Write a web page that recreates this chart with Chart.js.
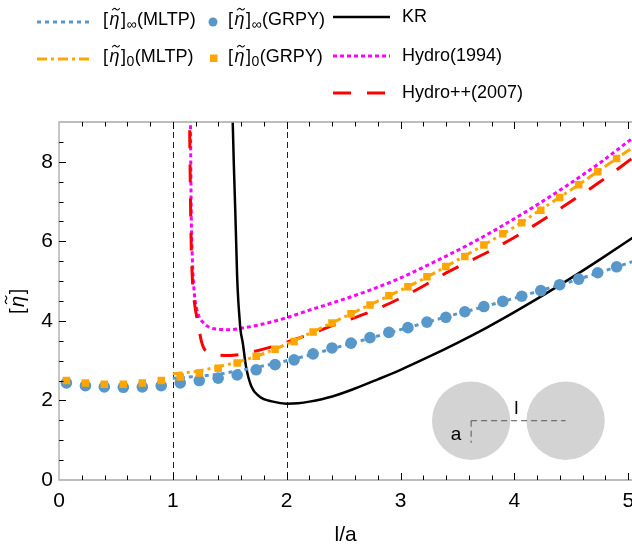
<!DOCTYPE html>
<html><head><meta charset="utf-8">
<script src="https://cdn.jsdelivr.net/npm/chart.js@4.4.1/dist/chart.umd.min.js"></script>
<style>html,body{margin:0;padding:0;background:#fff;overflow:hidden}#wrap{width:632px;height:551px;position:relative;overflow:hidden}canvas{display:block}</style>
</head><body><div id="wrap"><canvas id="c" width="638" height="551"></canvas></div>
<script>
// ---------- data ----------
const grpyX = [0.065,0.232,0.398,0.565,0.732,0.898,1.065,1.232,1.398,1.565,1.732,1.898,2.065,2.232,2.398,2.565,2.732,2.898,3.065,3.232,3.398,3.565,3.732,3.898,4.065,4.232,4.398,4.565,4.732,4.898];
const etaInfGRPY = [2.44,2.37,2.34,2.33,2.34,2.37,2.44,2.50,2.56,2.64,2.77,2.90,3.02,3.17,3.32,3.44,3.58,3.71,3.83,3.97,4.09,4.23,4.36,4.49,4.62,4.76,4.91,5.05,5.21,5.36];
const eta0GRPY = [2.50,2.44,2.41,2.41,2.44,2.50,2.59,2.69,2.81,2.94,3.11,3.29,3.48,3.72,3.95,4.18,4.40,4.63,4.86,5.11,5.37,5.62,5.91,6.19,6.47,6.78,7.10,7.42,7.75,8.08];

const mltpX = [1.0,1.2,1.4,1.6,1.8,2.0,2.25,2.5,2.75,3.0,3.25,3.5,3.75,4.0,4.25,4.5,4.75,5.05];
const etaInfMLTP = [2.56,2.60,2.66,2.76,2.87,3.00,3.18,3.38,3.58,3.78,3.98,4.18,4.37,4.57,4.78,4.99,5.22,5.50];
const eta0MLTP = [2.67,2.73,2.85,2.99,3.18,3.42,3.75,4.09,4.43,4.77,5.13,5.53,5.94,6.36,6.83,7.30,7.79,8.38];

const krX = [1.505,1.526,1.535,1.548,1.556,1.565,1.575,1.585,1.594,1.614,1.643,1.69,1.76,1.88,2.0,2.1,2.2,2.4,2.6,2.8,3.0,3.25,3.5,3.75,4.0,4.25,4.5,4.75,5.05];
const krY = [10.5,9.0,8.0,6.8,6.0,5.1,4.5,4.1,3.78,3.45,2.85,2.35,2.10,1.97,1.92,1.93,1.97,2.10,2.30,2.53,2.77,3.10,3.45,3.82,4.22,4.64,5.08,5.54,6.11];

const hydro94X = [1.150,1.155,1.158,1.161,1.167,1.175,1.19,1.21,1.234,1.263,1.32,1.40,1.5,1.61,1.76,2.0,2.2,2.4,2.7,3.0,3.28,3.6,3.87,4.2,4.45,4.75,5.05];
const hydro94Y = [10.5,9.0,7.8,6.8,5.96,5.3,4.65,4.3,4.08,3.97,3.84,3.79,3.78,3.82,3.90,4.08,4.27,4.45,4.74,5.08,5.46,5.92,6.35,6.92,7.38,7.97,8.62];

const hydro07X = [1.140,1.147,1.153,1.16,1.168,1.175,1.19,1.22,1.25,1.27,1.30,1.38,1.5,1.6,1.7,1.907,2.11,2.4,2.78,3.1,3.43,3.8,4.1,4.4,4.74,5.05];
const hydro07Y = [10.5,9.0,7.5,6.1,5.3,4.87,4.45,3.95,3.50,3.33,3.22,3.15,3.13,3.16,3.22,3.38,3.57,3.88,4.28,4.72,5.25,5.78,6.27,6.82,7.47,8.12];

const xTicks = [0,1,2,3,4,5];
const yTicks = [0,2,4,6,8];

// ---------- styles ----------
const BLUE = '#5897c9', ORANGE = '#ffa500', MAGENTA = '#ff00ff', RED = '#ff0000', BLACK = '#000000';
const FONT = "'Liberation Sans', Arial, Helvetica, sans-serif";
Chart.defaults.font.family = FONT;
Chart.defaults.color = '#000';

const pts = (xs, ys) => xs.map((v, i) => ({x: v, y: ys[i]}));

const S = {
  infMLTP: {color: BLUE, width: 3, dash: [4, 4]},
  zeroMLTP: {color: ORANGE, width: 3, dash: [10, 4, 3, 4]},
  kr: {color: BLACK, width: 2.5, dash: []},
  h94: {color: MAGENTA, width: 3, dash: [4, 3]},
  h07: {color: RED, width: 3, dash: [18, 16]}
};
function lineDs(label, data, s) {
  return {label, data, borderColor: s.color, borderWidth: s.width, borderDash: s.dash,
    pointRadius: 0, fill: false, cubicInterpolationMode: 'monotone', showLine: true};
}

// ---------- decorations ----------
const insetCentersX = [3.62, 4.45], insetY = 1.49, insetRx = 0.344;
function tilde(ctx, cx, ty, w) {
  ctx.save(); ctx.beginPath(); ctx.lineWidth = 1.1; ctx.strokeStyle = '#000';
  ctx.moveTo(cx - w/2, ty + 1);
  ctx.quadraticCurveTo(cx - w/4, ty - 2, cx, ty);
  ctx.quadraticCurveTo(cx + w/4, ty + 2, cx + w/2, ty - 1);
  ctx.stroke(); ctx.restore();
}
function etaLabel(ctx, x, y, size, sub, tail) {
  ctx.textAlign = 'left'; ctx.textBaseline = 'middle'; ctx.fillStyle = '#000';
  ctx.font = `${size}px ${FONT}`;
  ctx.fillText('[', x, y); x += ctx.measureText('[').width + 1.5;
  ctx.font = `italic ${size}px ${FONT}`;
  ctx.fillText('η', x, y); const w = ctx.measureText('η').width;
  tilde(ctx, x + w/2 + size*0.08, y - size*0.6, size*0.42);
  x += w + 1.5;
  ctx.font = `${size}px ${FONT}`;
  ctx.fillText(']', x, y); x += ctx.measureText(']').width + 0.5;
  if (sub) {
    ctx.font = `${Math.round(size*0.8)}px ${FONT}`;
    ctx.fillText(sub, x, y + size*0.3); x += ctx.measureText(sub).width + 0.5;
  }
  if (tail) { ctx.font = `${size}px ${FONT}`; ctx.fillText(tail, x, y); }
}
function sampleLine(ctx, x1, x2, y, s) {
  ctx.save(); ctx.beginPath(); ctx.strokeStyle = s.color; ctx.lineWidth = s.width;
  ctx.setLineDash(s.dash); ctx.moveTo(x1, y); ctx.lineTo(x2, y); ctx.stroke(); ctx.restore();
}

const decor = {
  id: 'decor',
  beforeDatasetsDraw(chart) {
    const {ctx, chartArea: a, scales: {x, y}} = chart;
    ctx.save();
    // inset spheres
    const r = x.getPixelForValue(insetRx) - x.getPixelForValue(0);
    const cy = y.getPixelForValue(insetY);
    ctx.fillStyle = '#d3d3d3';
    insetCentersX.forEach(cx => { ctx.beginPath(); ctx.arc(x.getPixelForValue(cx), cy, r, 0, Math.PI*2); ctx.fill(); });
    const c1 = x.getPixelForValue(insetCentersX[0]), c2 = x.getPixelForValue(insetCentersX[1]);
    ctx.strokeStyle = '#555'; ctx.lineWidth = 1; ctx.setLineDash([6, 4]);
    ctx.beginPath(); ctx.moveTo(c1, cy); ctx.lineTo(c2, cy); ctx.stroke();
    ctx.beginPath(); ctx.moveTo(c1, cy); ctx.lineTo(c1, cy + 22); ctx.stroke();
    ctx.setLineDash([]);
    ctx.fillStyle = '#000'; ctx.font = `19px ${FONT}`; ctx.textBaseline = 'middle'; ctx.textAlign = 'center';
    ctx.fillText('a', c1 - 15, cy + 14);
    ctx.fillText('l', (c1 + c2)/2 - 2, cy - 12);
    // vertical dashed lines
    ctx.strokeStyle = '#222'; ctx.lineWidth = 1; ctx.setLineDash([6, 4]);
    [1, 2].forEach(v => { const px = Math.round(x.getPixelForValue(v)) + 0.5; ctx.beginPath(); ctx.moveTo(px, a.top); ctx.lineTo(px, a.bottom); ctx.stroke(); });
    ctx.restore();
  },
  afterDraw(chart) {
    const {ctx, chartArea: a, scales: {x, y}} = chart;
    ctx.save();
    // frame
    ctx.strokeStyle = '#a8a8a8'; ctx.lineWidth = 1.3;
    ctx.beginPath();
    ctx.moveTo(a.right + 2, a.top); ctx.lineTo(a.left, a.top); ctx.lineTo(a.left, a.bottom); ctx.lineTo(a.right + 2, a.bottom);
    ctx.stroke();
    // ticks
    ctx.strokeStyle = '#000'; ctx.lineWidth = 1;
    ctx.beginPath();
    for (let i = 1; i <= 25; i++) {
      const v = i * 0.2, px = Math.round(x.getPixelForValue(v)) + 0.5, len = (i % 5 === 0) ? 7 : 4.5;
      ctx.moveTo(px, a.bottom); ctx.lineTo(px, a.bottom - len);
      ctx.moveTo(px, a.top); ctx.lineTo(px, a.top + len);
    }
    for (let i = 1; i <= 17; i++) {
      const v = i * 0.5, py = Math.round(y.getPixelForValue(v)) + 0.5, len = (i % 4 === 0) ? 7 : 4.5;
      ctx.moveTo(a.left, py); ctx.lineTo(a.left + len, py);
    }
    ctx.stroke();
    // y-axis title
    ctx.save();
    ctx.translate(18, (a.top + a.bottom)/2);
    ctx.rotate(-Math.PI/2);
    etaLabel(ctx, -13, 0, 20, '', '');
    ctx.restore();
    // legend
    sampleLine(ctx, 37, 90, 22, S.infMLTP);
    etaLabel(ctx, 103, 20, 18, '∞', '(MLTP)');
    ctx.fillStyle = BLUE; ctx.beginPath(); ctx.arc(213, 22, 4.5, 0, Math.PI*2); ctx.fill();
    etaLabel(ctx, 228, 20, 18, '∞', '(GRPY)');
    sampleLine(ctx, 333, 390, 17, S.kr);
    ctx.fillStyle = '#000'; ctx.font = `18px ${FONT}`; ctx.textBaseline = 'middle'; ctx.textAlign = 'left';
    ctx.fillText('KR', 402, 17);

    sampleLine(ctx, 37, 90, 59, S.zeroMLTP);
    etaLabel(ctx, 103, 57, 18, '0', '(MLTP)');
    ctx.fillStyle = ORANGE; ctx.fillRect(210, 54.5, 7.5, 7.5);
    etaLabel(ctx, 228, 57, 18, '0', '(GRPY)');
    sampleLine(ctx, 333, 390, 56, S.h94);
    ctx.fillStyle = '#000'; ctx.font = `18px ${FONT}`; ctx.textBaseline = 'middle'; ctx.textAlign = 'left';
    ctx.fillText('Hydro(1994)', 402, 56);
    sampleLine(ctx, 333, 390, 93, S.h07);
    ctx.fillStyle = '#000';
    ctx.fillText('Hydro++(2007)', 402, 93);
    ctx.restore();
  }
};

new Chart(document.getElementById('c').getContext('2d'), {
  type: 'line',
  data: {
    datasets: [
      {label: '[η̃]0(GRPY)', data: pts(grpyX, eta0GRPY), showLine: false, pointStyle: 'rect', pointRadius: 5.3,
        pointBackgroundColor: ORANGE, pointBorderWidth: 0, borderColor: ORANGE},
      {label: '[η̃]∞(GRPY)', data: pts(grpyX, etaInfGRPY), showLine: false, pointStyle: 'circle', pointRadius: 5.8,
        pointBackgroundColor: BLUE, pointBorderWidth: 0, borderColor: BLUE},
      lineDs('[η̃]0(MLTP)', pts(mltpX, eta0MLTP), S.zeroMLTP),
      lineDs('[η̃]∞(MLTP)', pts(mltpX, etaInfMLTP), S.infMLTP),
      lineDs('KR', pts(krX, krY), S.kr),
      lineDs('Hydro++(2007)', pts(hydro07X, hydro07Y), S.h07),
      lineDs('Hydro(1994)', pts(hydro94X, hydro94Y), S.h94)
    ]
  },
  options: {
    responsive: false, animation: false, devicePixelRatio: 1,
    layout: {padding: {top: 122, left: 0, right: 0, bottom: 0}},
    plugins: {legend: {display: false}, tooltip: {enabled: false}},
    scales: {
      x: {type: 'linear', min: 0, max: 5.035,
        grid: {display: false, drawTicks: false}, border: {display: false},
        ticks: {font: {size: 21}, color: '#000', padding: 9, maxRotation: 0, autoSkip: false},
        afterBuildTicks: s => { s.ticks = xTicks.map(v => ({value: v})); },
        afterFit: s => { s.height = 71; s.paddingLeft = 0; s.paddingRight = 0; },
        title: {display: true, text: 'l/a', font: {size: 21}, color: '#000', padding: {top: 0, bottom: 3}}},
      y: {type: 'linear', min: 0, max: 9,
        grid: {display: false, drawTicks: false}, border: {display: false},
        ticks: {font: {size: 21}, color: '#000', padding: 6},
        afterBuildTicks: s => { s.ticks = yTicks.map(v => ({value: v})); },
        afterFit: s => { s.width = 59; s.paddingTop = 0; s.paddingBottom = 0; }}
    }
  },
  plugins: [decor]
});
</script></body></html>
